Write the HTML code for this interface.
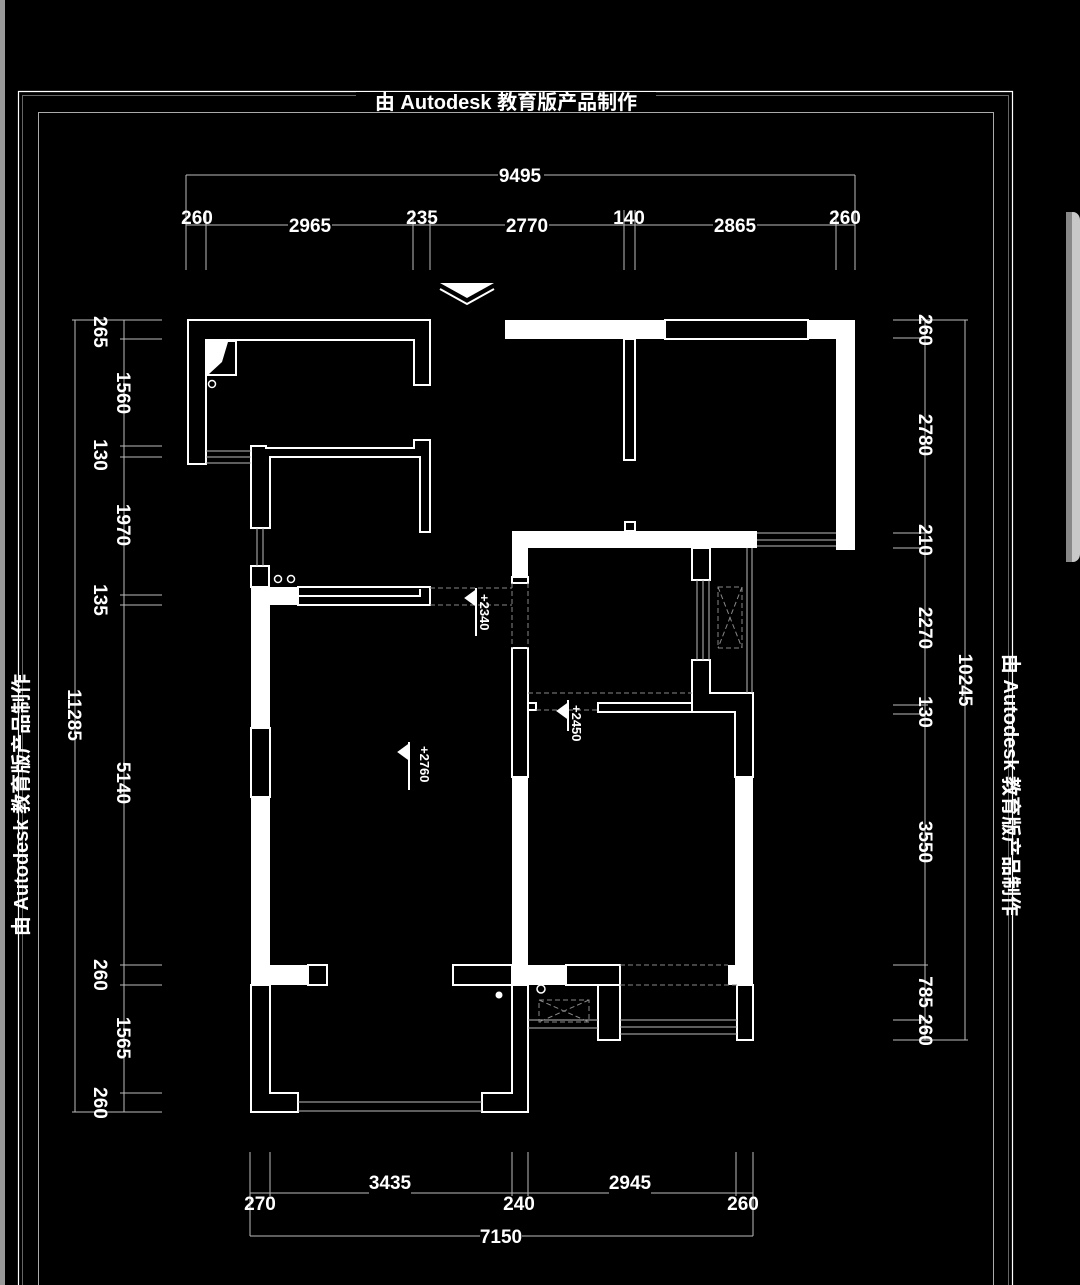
<!DOCTYPE html>
<html><head><meta charset="utf-8"><style>
html,body{margin:0;padding:0;background:#000;width:1080px;height:1285px;overflow:hidden;}
svg{display:block}
text{font-family:"Liberation Sans","Noto Sans CJK SC",sans-serif;fill:#fff;}
</style></head><body>
<svg width="1080" height="1285" viewBox="0 0 1080 1285" xmlns="http://www.w3.org/2000/svg">
<rect width="1080" height="1285" fill="#000"/>
<rect x="0" y="0" width="5" height="1285" fill="#9a9a9a"/>
<rect x="1066" y="212" width="14" height="350" rx="8" fill="#c8c8c8"/>
<rect x="1066" y="212" width="6" height="350" fill="#888"/>
<g fill="none">
<polyline points="18.5,1285 18.5,91.5 1012.5,91.5 1012.5,1285" stroke="#fff" stroke-width="1.2"/>
<polyline points="22.5,1285 22.5,95.5 1008.5,95.5 1008.5,1285" stroke="#666" stroke-width="1"/>
<polyline points="38.5,1285 38.5,112.5 993.5,112.5 993.5,1285" stroke="#aaa" stroke-width="1"/>
</g>
<rect x="356" y="92" width="300" height="20" fill="#000"/>
<text x="506" y="109" font-size="20" font-weight="bold" text-anchor="middle">由 Autodesk 教育版产品制作</text>
<text transform="translate(28,805) rotate(-90)" font-size="20" font-weight="bold" text-anchor="middle">由 Autodesk 教育版产品制作</text>
<text transform="translate(1004,785) rotate(90)" font-size="20" font-weight="bold" text-anchor="middle">由 Autodesk 教育版产品制作</text>

<g stroke="#bbb" stroke-width="1" fill="none">
<line x1="186" y1="175" x2="855" y2="175"/>
<line x1="186" y1="225" x2="855" y2="225"/>
<line x1="186" y1="175" x2="186" y2="270"/><line x1="206" y1="210" x2="206" y2="270"/>
<line x1="413" y1="210" x2="413" y2="270"/><line x1="430" y1="210" x2="430" y2="270"/>
<line x1="624" y1="210" x2="624" y2="270"/><line x1="635" y1="210" x2="635" y2="270"/>
<line x1="836" y1="210" x2="836" y2="270"/><line x1="855" y1="175" x2="855" y2="270"/>
<line x1="75" y1="320" x2="75" y2="1112"/>
<line x1="124" y1="320" x2="124" y2="1112"/>
<line x1="72" y1="320" x2="162" y2="320"/><line x1="120" y1="339" x2="162" y2="339"/>
<line x1="120" y1="446" x2="162" y2="446"/><line x1="120" y1="457" x2="162" y2="457"/>
<line x1="120" y1="595" x2="162" y2="595"/><line x1="120" y1="605" x2="162" y2="605"/>
<line x1="120" y1="965" x2="162" y2="965"/><line x1="120" y1="985" x2="162" y2="985"/>
<line x1="120" y1="1093" x2="162" y2="1093"/><line x1="72" y1="1112" x2="162" y2="1112"/>
<line x1="925" y1="320" x2="925" y2="1040"/>
<line x1="965" y1="320" x2="965" y2="1040"/>
<line x1="893" y1="320" x2="968" y2="320"/><line x1="893" y1="338" x2="928" y2="338"/>
<line x1="893" y1="533" x2="928" y2="533"/><line x1="893" y1="548" x2="928" y2="548"/>
<line x1="893" y1="705" x2="928" y2="705"/><line x1="893" y1="714" x2="928" y2="714"/>
<line x1="893" y1="965" x2="928" y2="965"/><line x1="893" y1="1020" x2="928" y2="1020"/>
<line x1="893" y1="1040" x2="968" y2="1040"/>
<line x1="250" y1="1193" x2="753" y2="1193"/>
<line x1="250" y1="1236" x2="753" y2="1236"/>
<line x1="250" y1="1152" x2="250" y2="1236"/><line x1="270" y1="1152" x2="270" y2="1196"/>
<line x1="512" y1="1152" x2="512" y2="1196"/><line x1="528" y1="1152" x2="528" y2="1196"/>
<line x1="736" y1="1152" x2="736" y2="1196"/><line x1="753" y1="1152" x2="753" y2="1236"/>
</g>
<g font-size="19" font-weight="bold" text-anchor="middle">
<rect x="498" y="166" width="46" height="18" fill="#000"/>
<text x="520" y="182">9495</text>
<rect x="288" y="215" width="44" height="18" fill="#000"/><text x="310" y="232">2965</text>
<rect x="505" y="215" width="44" height="18" fill="#000"/><text x="527" y="232">2770</text>
<rect x="713" y="215" width="44" height="18" fill="#000"/><text x="735" y="232">2865</text>
<text x="197" y="224">260</text><text x="422" y="224">235</text>
<text x="629" y="224">140</text><text x="845" y="224">260</text>
<rect x="369" y="1184" width="42" height="18" fill="#000"/><text x="390" y="1189">3435</text>
<rect x="609" y="1184" width="42" height="18" fill="#000"/><text x="630" y="1189">2945</text>
<text x="260" y="1210">270</text><text x="519" y="1210">240</text><text x="743" y="1210">260</text>
<rect x="480" y="1227" width="42" height="18" fill="#000"/><text x="501" y="1243">7150</text>
</g>
<g font-size="19" font-weight="bold" text-anchor="middle">
<text transform="translate(94,332) rotate(90)">265</text>
<text transform="translate(117,393) rotate(90)">1560</text>
<text transform="translate(94,455) rotate(90)">130</text>
<text transform="translate(117,525) rotate(90)">1970</text>
<text transform="translate(94,600) rotate(90)">135</text>
<text transform="translate(117,783) rotate(90)">5140</text>
<text transform="translate(94,975) rotate(90)">260</text>
<text transform="translate(117,1038) rotate(90)">1565</text>
<text transform="translate(94,1103) rotate(90)">260</text>
<text transform="translate(68,715) rotate(90)">11285</text>
<text transform="translate(919,330) rotate(90)">260</text>
<text transform="translate(919,435) rotate(90)">2780</text>
<text transform="translate(919,540) rotate(90)">210</text>
<text transform="translate(919,628) rotate(90)">2270</text>
<text transform="translate(919,712) rotate(90)">130</text>
<text transform="translate(919,842) rotate(90)">3550</text>
<text transform="translate(919,992) rotate(90)">785</text>
<text transform="translate(919,1030) rotate(90)">260</text>
<text transform="translate(959,680) rotate(90)">10245</text>
</g>

<polygon points="440,283 494,283 467,298" fill="#fff"/>
<polyline points="440,289 467,304 494,289" fill="none" stroke="#fff" stroke-width="2"/>

<g fill="none" stroke="#fff" stroke-width="2">
<polygon points="188,320 430,320 430,385 414,385 414,340 206,340 206,464 188,464"/>
<polygon points="251,446 266,446 266,448 414,448 414,440 430,440 430,532 420,532 420,457 270,457 270,528 251,528"/>
<rect x="251" y="566" width="18" height="21"/>
<polygon points="298,587 430,587 430,605 298,605"/>
<polyline points="298,596 420,596 420,589"/>
<rect x="251" y="728" width="19" height="69"/>
<rect x="308" y="965" width="19" height="20"/>
<rect x="453" y="965" width="59" height="20"/>
<polygon points="251,985 270,985 270,1093 298,1093 298,1112 251,1112"/>
<polygon points="528,985 528,1112 482,1112 482,1093 512,1093 512,985"/>
<rect x="665" y="320" width="143" height="19"/>
<rect x="624" y="339" width="11" height="121"/>
<rect x="625" y="522" width="10" height="9"/>
<rect x="512" y="577" width="16" height="6"/>
<rect x="512" y="648" width="16" height="129"/>
<rect x="692" y="548" width="18" height="32"/>
<polygon points="692,660 710,660 710,693 753,693 753,777 735,777 735,712 692,712 692,703 598,703 598,712 692,712"/>
<polyline points="528,703 536,703 536,710 528,710"/>
<rect x="566" y="965" width="54" height="20"/>
<polygon points="598,985 620,985 620,1040 598,1040"/>
<rect x="737" y="985" width="16" height="55"/>
</g>
<g fill="#fff">
<rect x="207" y="340" width="30" height="36"/>
<rect x="251" y="587" width="47" height="18"/>
<rect x="251" y="605" width="19" height="123"/>
<rect x="251" y="797" width="19" height="168"/>
<rect x="251" y="965" width="57" height="20"/>
<rect x="505" y="320" width="160" height="19"/>
<rect x="808" y="320" width="47" height="19"/>
<rect x="836" y="320" width="19" height="230"/>
<rect x="512" y="531" width="245" height="17"/>
<rect x="512" y="548" width="16" height="29"/>
<rect x="512" y="777" width="16" height="188"/>
<rect x="735" y="777" width="18" height="188"/>
<rect x="512" y="965" width="54" height="20"/>
<rect x="728" y="965" width="25" height="20"/>
</g>
<polygon points="209,374 235,374 235,342 228,342 222,362" fill="#000"/>
<g fill="none" stroke="#fff" stroke-width="1.5">
<circle cx="212" cy="384" r="3.5"/><circle cx="278" cy="579" r="3.5"/><circle cx="291" cy="579" r="3.5"/>
<circle cx="541" cy="989" r="4"/>
</g>
<circle cx="499" cy="995" r="3.5" fill="#fff"/>
<g stroke="#bbb" stroke-width="1">
<line x1="206" y1="451" x2="251" y2="451"/><line x1="206" y1="457" x2="251" y2="457"/><line x1="206" y1="463" x2="251" y2="463"/>
<line x1="257" y1="528" x2="257" y2="566"/><line x1="263" y1="528" x2="263" y2="566"/>
<line x1="298" y1="1102" x2="482" y2="1102"/><line x1="298" y1="1111" x2="482" y2="1111"/>
<line x1="757" y1="533" x2="836" y2="533"/><line x1="757" y1="540" x2="836" y2="540"/><line x1="757" y1="546" x2="836" y2="546"/>
<line x1="697" y1="580" x2="697" y2="660"/><line x1="703" y1="580" x2="703" y2="660"/><line x1="709" y1="580" x2="709" y2="660"/>
<line x1="747" y1="548" x2="747" y2="693"/><line x1="752" y1="548" x2="752" y2="693"/>
<line x1="620" y1="1020" x2="737" y2="1020"/><line x1="620" y1="1027" x2="737" y2="1027"/><line x1="620" y1="1034" x2="737" y2="1034"/>
<line x1="528" y1="1020" x2="598" y2="1020"/><line x1="528" y1="1028" x2="598" y2="1028"/>
</g>
<g stroke="#888" stroke-width="1" stroke-dasharray="5,3" fill="none">
<line x1="430" y1="588" x2="512" y2="588"/><line x1="430" y1="605" x2="512" y2="605"/>
<line x1="512" y1="583" x2="512" y2="648"/><line x1="528" y1="583" x2="528" y2="648"/>
<line x1="528" y1="693" x2="692" y2="693"/><line x1="536" y1="710" x2="598" y2="710"/>
<line x1="620" y1="965" x2="728" y2="965"/><line x1="620" y1="985" x2="737" y2="985"/>
<rect x="718" y="587" width="24" height="61"/>
<line x1="718" y1="587" x2="742" y2="648"/><line x1="742" y1="587" x2="718" y2="648"/>
<rect x="539" y="1000" width="50" height="22"/>
<line x1="539" y1="1000" x2="589" y2="1022"/><line x1="589" y1="1000" x2="539" y2="1022"/>
</g>
<g fill="#fff" stroke="#fff" stroke-width="2">
<polygon points="465,598 476,590 476,606" stroke-width="1"/>
<line x1="476" y1="588" x2="476" y2="636"/>
<polygon points="557,711 568,703 568,719" stroke-width="1"/>
<line x1="568" y1="700" x2="568" y2="731"/>
<polygon points="398,752 409,744 409,760" stroke-width="1"/>
<line x1="409" y1="742" x2="409" y2="790"/>
</g>
<g font-size="13" font-weight="bold">
<text transform="translate(480,594) rotate(90)">+2340</text>
<text transform="translate(572,705) rotate(90)">+2450</text>
<text transform="translate(420,746) rotate(90)">+2760</text>
</g>
</svg>
</body></html>
